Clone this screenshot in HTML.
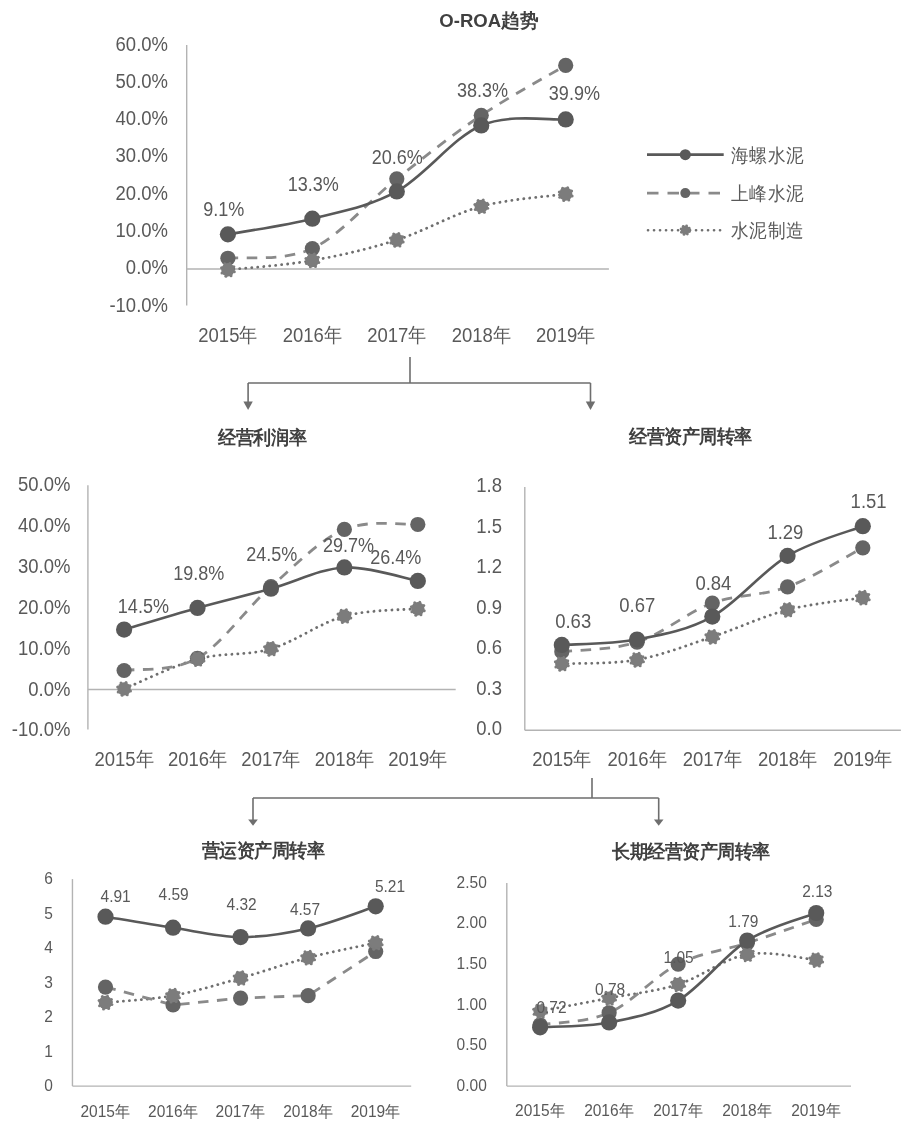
<!DOCTYPE html>
<html><head><meta charset="utf-8"><style>
html,body{margin:0;padding:0;background:#fff;}
svg{display:block;font-family:'Liberation Sans', sans-serif;filter:grayscale(1);}
</style></head><body>
<svg width="914" height="1131" viewBox="0 0 914 1131">
<rect width="914" height="1131" fill="#fff"/>
<line x1="186.7" y1="45" x2="186.7" y2="305.6" stroke="#b3b3b3" stroke-width="1.4"/>
<line x1="186.7" y1="269.0" x2="608.9" y2="269.0" stroke="#b3b3b3" stroke-width="1.4"/>
<text transform="translate(168.00,304.30) scale(1.0,1.1)" font-size="18.5" text-anchor="end" font-weight="normal" fill="#595959" dominant-baseline="central">-10.0%</text>
<text transform="translate(168.00,267.00) scale(1.0,1.1)" font-size="18.5" text-anchor="end" font-weight="normal" fill="#595959" dominant-baseline="central">0.0%</text>
<text transform="translate(168.00,229.70) scale(1.0,1.1)" font-size="18.5" text-anchor="end" font-weight="normal" fill="#595959" dominant-baseline="central">10.0%</text>
<text transform="translate(168.00,192.40) scale(1.0,1.1)" font-size="18.5" text-anchor="end" font-weight="normal" fill="#595959" dominant-baseline="central">20.0%</text>
<text transform="translate(168.00,155.10) scale(1.0,1.1)" font-size="18.5" text-anchor="end" font-weight="normal" fill="#595959" dominant-baseline="central">30.0%</text>
<text transform="translate(168.00,117.80) scale(1.0,1.1)" font-size="18.5" text-anchor="end" font-weight="normal" fill="#595959" dominant-baseline="central">40.0%</text>
<text transform="translate(168.00,80.50) scale(1.0,1.1)" font-size="18.5" text-anchor="end" font-weight="normal" fill="#595959" dominant-baseline="central">50.0%</text>
<text transform="translate(168.00,43.20) scale(1.0,1.1)" font-size="18.5" text-anchor="end" font-weight="normal" fill="#595959" dominant-baseline="central">60.0%</text>
<text transform="translate(227.90,334.20) scale(1.0,1.1)" font-size="18.5" text-anchor="middle" font-weight="normal" fill="#595959" dominant-baseline="central">2015年</text>
<text transform="translate(312.35,334.20) scale(1.0,1.1)" font-size="18.5" text-anchor="middle" font-weight="normal" fill="#595959" dominant-baseline="central">2016年</text>
<text transform="translate(396.80,334.20) scale(1.0,1.1)" font-size="18.5" text-anchor="middle" font-weight="normal" fill="#595959" dominant-baseline="central">2017年</text>
<text transform="translate(481.25,334.20) scale(1.0,1.1)" font-size="18.5" text-anchor="middle" font-weight="normal" fill="#595959" dominant-baseline="central">2018年</text>
<text transform="translate(565.70,334.20) scale(1.0,1.1)" font-size="18.5" text-anchor="middle" font-weight="normal" fill="#595959" dominant-baseline="central">2019年</text>
<path d="M227.90,269.79 C241.98,268.24 284.20,265.44 312.35,260.47 C340.50,255.49 368.65,248.97 396.80,239.95 C424.95,230.94 453.10,214.03 481.25,206.38 C509.40,198.74 551.62,196.12 565.70,194.07" fill="none" stroke="#6f6f6f" stroke-width="2.8" stroke-dasharray="0.1 5.9" stroke-linecap="round"/>
<path d="M227.90,258.23 C241.98,256.61 284.20,261.77 312.35,248.53 C340.50,235.29 368.65,200.97 396.80,178.78 C424.95,156.59 453.10,134.27 481.25,115.37 C509.40,96.47 551.62,73.72 565.70,65.39" fill="none" stroke="#8a8a8a" stroke-width="2.8" stroke-dasharray="10.5 8.5"/>
<circle cx="227.90" cy="258.23" r="7.6" fill="#646464"/>
<circle cx="312.35" cy="248.53" r="7.6" fill="#646464"/>
<circle cx="396.80" cy="178.78" r="7.6" fill="#646464"/>
<circle cx="481.25" cy="115.37" r="7.6" fill="#646464"/>
<circle cx="565.70" cy="65.39" r="7.6" fill="#646464"/>
<circle cx="227.90" cy="269.79" r="6.7" fill="#7c7c7c"/><circle cx="234.30" cy="271.77" r="1.5" fill="#7c7c7c"/><circle cx="231.03" cy="275.72" r="1.5" fill="#7c7c7c"/><circle cx="225.92" cy="276.19" r="1.5" fill="#7c7c7c"/><circle cx="221.97" cy="272.92" r="1.5" fill="#7c7c7c"/><circle cx="221.50" cy="267.81" r="1.5" fill="#7c7c7c"/><circle cx="224.77" cy="263.87" r="1.5" fill="#7c7c7c"/><circle cx="229.88" cy="263.39" r="1.5" fill="#7c7c7c"/><circle cx="233.83" cy="266.67" r="1.5" fill="#7c7c7c"/>
<circle cx="312.35" cy="260.47" r="6.7" fill="#7c7c7c"/><circle cx="318.75" cy="262.45" r="1.5" fill="#7c7c7c"/><circle cx="315.48" cy="266.39" r="1.5" fill="#7c7c7c"/><circle cx="310.37" cy="266.87" r="1.5" fill="#7c7c7c"/><circle cx="306.42" cy="263.59" r="1.5" fill="#7c7c7c"/><circle cx="305.95" cy="258.49" r="1.5" fill="#7c7c7c"/><circle cx="309.22" cy="254.54" r="1.5" fill="#7c7c7c"/><circle cx="314.33" cy="254.07" r="1.5" fill="#7c7c7c"/><circle cx="318.28" cy="257.34" r="1.5" fill="#7c7c7c"/>
<circle cx="396.80" cy="239.95" r="6.7" fill="#7c7c7c"/><circle cx="403.20" cy="241.93" r="1.5" fill="#7c7c7c"/><circle cx="399.93" cy="245.88" r="1.5" fill="#7c7c7c"/><circle cx="394.82" cy="246.35" r="1.5" fill="#7c7c7c"/><circle cx="390.87" cy="243.08" r="1.5" fill="#7c7c7c"/><circle cx="390.40" cy="237.97" r="1.5" fill="#7c7c7c"/><circle cx="393.67" cy="234.03" r="1.5" fill="#7c7c7c"/><circle cx="398.78" cy="233.55" r="1.5" fill="#7c7c7c"/><circle cx="402.73" cy="236.83" r="1.5" fill="#7c7c7c"/>
<circle cx="481.25" cy="206.38" r="6.7" fill="#7c7c7c"/><circle cx="487.65" cy="208.36" r="1.5" fill="#7c7c7c"/><circle cx="484.38" cy="212.31" r="1.5" fill="#7c7c7c"/><circle cx="479.27" cy="212.78" r="1.5" fill="#7c7c7c"/><circle cx="475.32" cy="209.51" r="1.5" fill="#7c7c7c"/><circle cx="474.85" cy="204.40" r="1.5" fill="#7c7c7c"/><circle cx="478.12" cy="200.46" r="1.5" fill="#7c7c7c"/><circle cx="483.23" cy="199.98" r="1.5" fill="#7c7c7c"/><circle cx="487.18" cy="203.26" r="1.5" fill="#7c7c7c"/>
<circle cx="565.70" cy="194.07" r="6.7" fill="#7c7c7c"/><circle cx="572.10" cy="196.05" r="1.5" fill="#7c7c7c"/><circle cx="568.83" cy="200.00" r="1.5" fill="#7c7c7c"/><circle cx="563.72" cy="200.47" r="1.5" fill="#7c7c7c"/><circle cx="559.77" cy="197.20" r="1.5" fill="#7c7c7c"/><circle cx="559.30" cy="192.09" r="1.5" fill="#7c7c7c"/><circle cx="562.57" cy="188.15" r="1.5" fill="#7c7c7c"/><circle cx="567.68" cy="187.67" r="1.5" fill="#7c7c7c"/><circle cx="571.63" cy="190.95" r="1.5" fill="#7c7c7c"/>
<path d="M227.90,234.36 C241.98,231.75 284.20,225.84 312.35,218.69 C340.50,211.54 368.65,207.00 396.80,191.46 C424.95,175.92 453.10,137.44 481.25,125.44 C509.40,113.44 551.62,120.47 565.70,119.47" fill="none" stroke="#595959" stroke-width="2.6"/>
<circle cx="227.90" cy="234.36" r="8.1" fill="#595959"/>
<circle cx="312.35" cy="218.69" r="8.1" fill="#595959"/>
<circle cx="396.80" cy="191.46" r="8.1" fill="#595959"/>
<circle cx="481.25" cy="125.44" r="8.1" fill="#595959"/>
<circle cx="565.70" cy="119.47" r="8.1" fill="#595959"/>
<text transform="translate(223.80,209.20) scale(0.975,1.1)" font-size="18.5" text-anchor="middle" font-weight="normal" fill="#595959" dominant-baseline="central">9.1%</text>
<text transform="translate(313.30,184.20) scale(0.975,1.1)" font-size="18.5" text-anchor="middle" font-weight="normal" fill="#595959" dominant-baseline="central">13.3%</text>
<text transform="translate(397.30,156.80) scale(0.975,1.1)" font-size="18.5" text-anchor="middle" font-weight="normal" fill="#595959" dominant-baseline="central">20.6%</text>
<text transform="translate(482.50,90.00) scale(0.975,1.1)" font-size="18.5" text-anchor="middle" font-weight="normal" fill="#595959" dominant-baseline="central">38.3%</text>
<text transform="translate(574.40,93.10) scale(0.975,1.1)" font-size="18.5" text-anchor="middle" font-weight="normal" fill="#595959" dominant-baseline="central">39.9%</text>
<text transform="translate(489.00,20.50) scale(1.03,1.05)" font-size="18" text-anchor="middle" font-weight="bold" fill="#404040" dominant-baseline="central">O-ROA趋势</text>
<line x1="647" y1="154.7" x2="723.7" y2="154.7" stroke="#595959" stroke-width="2.8"/>
<circle cx="685.3" cy="154.7" r="5.5" fill="#595959"/>
<text transform="translate(731.00,155.00) scale(0.975,1.05)" font-size="18.5" text-anchor="start" font-weight="normal" fill="#595959" dominant-baseline="central">海螺水泥</text>
<line x1="647" y1="193.1" x2="723.7" y2="193.1" stroke="#8a8a8a" stroke-width="2.8" stroke-dasharray="11.5 9"/>
<circle cx="685.3" cy="193.1" r="5" fill="#646464"/>
<text transform="translate(731.00,193.40) scale(0.975,1.05)" font-size="18.5" text-anchor="start" font-weight="normal" fill="#595959" dominant-baseline="central">上峰水泥</text>
<line x1="648" y1="230.2" x2="723.7" y2="230.2" stroke="#6f6f6f" stroke-width="2.6" stroke-dasharray="0.1 5.9" stroke-linecap="round"/>
<circle cx="685.30" cy="230.20" r="4.4" fill="#7c7c7c"/><circle cx="689.50" cy="231.50" r="1.4" fill="#7c7c7c"/><circle cx="687.35" cy="234.09" r="1.4" fill="#7c7c7c"/><circle cx="684.00" cy="234.40" r="1.4" fill="#7c7c7c"/><circle cx="681.41" cy="232.25" r="1.4" fill="#7c7c7c"/><circle cx="681.10" cy="228.90" r="1.4" fill="#7c7c7c"/><circle cx="683.25" cy="226.31" r="1.4" fill="#7c7c7c"/><circle cx="686.60" cy="226.00" r="1.4" fill="#7c7c7c"/><circle cx="689.19" cy="228.15" r="1.4" fill="#7c7c7c"/>
<text transform="translate(731.00,230.50) scale(0.975,1.05)" font-size="18.5" text-anchor="start" font-weight="normal" fill="#595959" dominant-baseline="central">水泥制造</text>
<path d="M410,357 V383 M248.1,383 H590.5 M248.1,383 V402 M590.5,383 V402" fill="none" stroke="#6e6e6e" stroke-width="1.6"/>
<path d="M243.4,401.4 L252.79999999999998,401.4 L248.1,410 Z" fill="#6e6e6e"/>
<path d="M585.8,401.4 L595.2,401.4 L590.5,410 Z" fill="#6e6e6e"/>
<path d="M592,778 V798 M253,798 H658.7 M253,798 V820 M658.7,798 V820" fill="none" stroke="#6e6e6e" stroke-width="1.6"/>
<path d="M248.2,819.6 L257.8,819.6 L253,825.8 Z" fill="#6e6e6e"/>
<path d="M653.9000000000001,819.6 L663.5,819.6 L658.7,825.8 Z" fill="#6e6e6e"/>
<line x1="87.9" y1="485.3" x2="87.9" y2="729.6" stroke="#b3b3b3" stroke-width="1.4"/>
<line x1="87.9" y1="689.5" x2="455.7" y2="689.5" stroke="#b3b3b3" stroke-width="1.4"/>
<text transform="translate(70.40,729.10) scale(1.0,1.1)" font-size="18.5" text-anchor="end" font-weight="normal" fill="#595959" dominant-baseline="central">-10.0%</text>
<text transform="translate(70.40,688.20) scale(1.0,1.1)" font-size="18.5" text-anchor="end" font-weight="normal" fill="#595959" dominant-baseline="central">0.0%</text>
<text transform="translate(70.40,647.30) scale(1.0,1.1)" font-size="18.5" text-anchor="end" font-weight="normal" fill="#595959" dominant-baseline="central">10.0%</text>
<text transform="translate(70.40,606.40) scale(1.0,1.1)" font-size="18.5" text-anchor="end" font-weight="normal" fill="#595959" dominant-baseline="central">20.0%</text>
<text transform="translate(70.40,565.50) scale(1.0,1.1)" font-size="18.5" text-anchor="end" font-weight="normal" fill="#595959" dominant-baseline="central">30.0%</text>
<text transform="translate(70.40,524.60) scale(1.0,1.1)" font-size="18.5" text-anchor="end" font-weight="normal" fill="#595959" dominant-baseline="central">40.0%</text>
<text transform="translate(70.40,483.70) scale(1.0,1.1)" font-size="18.5" text-anchor="end" font-weight="normal" fill="#595959" dominant-baseline="central">50.0%</text>
<text transform="translate(124.10,758.40) scale(1.0,1.1)" font-size="18.5" text-anchor="middle" font-weight="normal" fill="#595959" dominant-baseline="central">2015年</text>
<text transform="translate(197.53,758.40) scale(1.0,1.1)" font-size="18.5" text-anchor="middle" font-weight="normal" fill="#595959" dominant-baseline="central">2016年</text>
<text transform="translate(270.96,758.40) scale(1.0,1.1)" font-size="18.5" text-anchor="middle" font-weight="normal" fill="#595959" dominant-baseline="central">2017年</text>
<text transform="translate(344.39,758.40) scale(1.0,1.1)" font-size="18.5" text-anchor="middle" font-weight="normal" fill="#595959" dominant-baseline="central">2018年</text>
<text transform="translate(417.82,758.40) scale(1.0,1.1)" font-size="18.5" text-anchor="middle" font-weight="normal" fill="#595959" dominant-baseline="central">2019年</text>
<path d="M124.10,688.90 C136.34,683.92 173.05,665.72 197.53,659.04 C222.01,652.36 246.48,655.98 270.96,648.82 C295.44,641.66 319.91,622.78 344.39,616.10 C368.87,609.42 405.58,609.96 417.82,608.74" fill="none" stroke="#6f6f6f" stroke-width="2.8" stroke-dasharray="0.1 5.9" stroke-linecap="round"/>
<path d="M124.10,670.50 C136.34,668.45 173.05,672.20 197.53,658.23 C222.01,644.25 246.48,608.12 270.96,586.65 C295.44,565.18 319.91,539.75 344.39,529.39 C368.87,519.03 405.58,525.30 417.82,524.48" fill="none" stroke="#8a8a8a" stroke-width="2.8" stroke-dasharray="10.5 8.5"/>
<circle cx="124.10" cy="670.50" r="7.6" fill="#646464"/>
<circle cx="197.53" cy="658.23" r="7.6" fill="#646464"/>
<circle cx="270.96" cy="586.65" r="7.6" fill="#646464"/>
<circle cx="344.39" cy="529.39" r="7.6" fill="#646464"/>
<circle cx="417.82" cy="524.48" r="7.6" fill="#646464"/>
<circle cx="124.10" cy="688.90" r="6.7" fill="#7c7c7c"/><circle cx="130.50" cy="690.88" r="1.5" fill="#7c7c7c"/><circle cx="127.23" cy="694.83" r="1.5" fill="#7c7c7c"/><circle cx="122.12" cy="695.30" r="1.5" fill="#7c7c7c"/><circle cx="118.17" cy="692.03" r="1.5" fill="#7c7c7c"/><circle cx="117.70" cy="686.92" r="1.5" fill="#7c7c7c"/><circle cx="120.97" cy="682.97" r="1.5" fill="#7c7c7c"/><circle cx="126.08" cy="682.50" r="1.5" fill="#7c7c7c"/><circle cx="130.03" cy="685.77" r="1.5" fill="#7c7c7c"/>
<circle cx="197.53" cy="659.04" r="6.7" fill="#7c7c7c"/><circle cx="203.93" cy="661.02" r="1.5" fill="#7c7c7c"/><circle cx="200.66" cy="664.97" r="1.5" fill="#7c7c7c"/><circle cx="195.55" cy="665.44" r="1.5" fill="#7c7c7c"/><circle cx="191.60" cy="662.17" r="1.5" fill="#7c7c7c"/><circle cx="191.13" cy="657.06" r="1.5" fill="#7c7c7c"/><circle cx="194.40" cy="653.12" r="1.5" fill="#7c7c7c"/><circle cx="199.51" cy="652.64" r="1.5" fill="#7c7c7c"/><circle cx="203.46" cy="655.92" r="1.5" fill="#7c7c7c"/>
<circle cx="270.96" cy="648.82" r="6.7" fill="#7c7c7c"/><circle cx="277.36" cy="650.80" r="1.5" fill="#7c7c7c"/><circle cx="274.09" cy="654.74" r="1.5" fill="#7c7c7c"/><circle cx="268.98" cy="655.22" r="1.5" fill="#7c7c7c"/><circle cx="265.03" cy="651.94" r="1.5" fill="#7c7c7c"/><circle cx="264.56" cy="646.84" r="1.5" fill="#7c7c7c"/><circle cx="267.83" cy="642.89" r="1.5" fill="#7c7c7c"/><circle cx="272.94" cy="642.42" r="1.5" fill="#7c7c7c"/><circle cx="276.89" cy="645.69" r="1.5" fill="#7c7c7c"/>
<circle cx="344.39" cy="616.10" r="6.7" fill="#7c7c7c"/><circle cx="350.79" cy="618.08" r="1.5" fill="#7c7c7c"/><circle cx="347.52" cy="622.02" r="1.5" fill="#7c7c7c"/><circle cx="342.41" cy="622.50" r="1.5" fill="#7c7c7c"/><circle cx="338.46" cy="619.22" r="1.5" fill="#7c7c7c"/><circle cx="337.99" cy="614.12" r="1.5" fill="#7c7c7c"/><circle cx="341.26" cy="610.17" r="1.5" fill="#7c7c7c"/><circle cx="346.37" cy="609.70" r="1.5" fill="#7c7c7c"/><circle cx="350.32" cy="612.97" r="1.5" fill="#7c7c7c"/>
<circle cx="417.82" cy="608.74" r="6.7" fill="#7c7c7c"/><circle cx="424.22" cy="610.72" r="1.5" fill="#7c7c7c"/><circle cx="420.95" cy="614.66" r="1.5" fill="#7c7c7c"/><circle cx="415.84" cy="615.14" r="1.5" fill="#7c7c7c"/><circle cx="411.89" cy="611.86" r="1.5" fill="#7c7c7c"/><circle cx="411.42" cy="606.76" r="1.5" fill="#7c7c7c"/><circle cx="414.69" cy="602.81" r="1.5" fill="#7c7c7c"/><circle cx="419.80" cy="602.34" r="1.5" fill="#7c7c7c"/><circle cx="423.75" cy="605.61" r="1.5" fill="#7c7c7c"/>
<path d="M124.10,629.60 C136.34,625.98 173.05,614.73 197.53,607.92 C222.01,601.10 246.48,595.44 270.96,588.69 C295.44,581.95 319.91,568.72 344.39,567.43 C368.87,566.13 405.58,578.67 417.82,580.92" fill="none" stroke="#595959" stroke-width="2.6"/>
<circle cx="124.10" cy="629.60" r="8.1" fill="#595959"/>
<circle cx="197.53" cy="607.92" r="8.1" fill="#595959"/>
<circle cx="270.96" cy="588.69" r="8.1" fill="#595959"/>
<circle cx="344.39" cy="567.43" r="8.1" fill="#595959"/>
<circle cx="417.82" cy="580.92" r="8.1" fill="#595959"/>
<text transform="translate(143.40,606.20) scale(0.975,1.1)" font-size="18.5" text-anchor="middle" font-weight="normal" fill="#595959" dominant-baseline="central">14.5%</text>
<text transform="translate(198.80,573.50) scale(0.975,1.1)" font-size="18.5" text-anchor="middle" font-weight="normal" fill="#595959" dominant-baseline="central">19.8%</text>
<text transform="translate(271.80,554.30) scale(0.975,1.1)" font-size="18.5" text-anchor="middle" font-weight="normal" fill="#595959" dominant-baseline="central">24.5%</text>
<text transform="translate(348.50,545.00) scale(0.975,1.1)" font-size="18.5" text-anchor="middle" font-weight="normal" fill="#595959" dominant-baseline="central">29.7%</text>
<text transform="translate(395.80,557.20) scale(0.975,1.1)" font-size="18.5" text-anchor="middle" font-weight="normal" fill="#595959" dominant-baseline="central">26.4%</text>
<text transform="translate(262.25,436.90) scale(1.0,1.05)" font-size="18" text-anchor="middle" font-weight="bold" fill="#404040" dominant-baseline="central">经营利润率</text>
<line x1="524.8" y1="487.1" x2="524.8" y2="730.2" stroke="#b3b3b3" stroke-width="1.4"/>
<line x1="524.8" y1="730.2" x2="900.9" y2="730.2" stroke="#b3b3b3" stroke-width="1.4"/>
<text transform="translate(502.00,727.80) scale(1.0,1.1)" font-size="18.5" text-anchor="end" font-weight="normal" fill="#595959" dominant-baseline="central">0.0</text>
<text transform="translate(502.00,687.33) scale(1.0,1.1)" font-size="18.5" text-anchor="end" font-weight="normal" fill="#595959" dominant-baseline="central">0.3</text>
<text transform="translate(502.00,646.87) scale(1.0,1.1)" font-size="18.5" text-anchor="end" font-weight="normal" fill="#595959" dominant-baseline="central">0.6</text>
<text transform="translate(502.00,606.40) scale(1.0,1.1)" font-size="18.5" text-anchor="end" font-weight="normal" fill="#595959" dominant-baseline="central">0.9</text>
<text transform="translate(502.00,565.93) scale(1.0,1.1)" font-size="18.5" text-anchor="end" font-weight="normal" fill="#595959" dominant-baseline="central">1.2</text>
<text transform="translate(502.00,525.47) scale(1.0,1.1)" font-size="18.5" text-anchor="end" font-weight="normal" fill="#595959" dominant-baseline="central">1.5</text>
<text transform="translate(502.00,485.00) scale(1.0,1.1)" font-size="18.5" text-anchor="end" font-weight="normal" fill="#595959" dominant-baseline="central">1.8</text>
<text transform="translate(561.80,758.50) scale(1.0,1.1)" font-size="18.5" text-anchor="middle" font-weight="normal" fill="#595959" dominant-baseline="central">2015年</text>
<text transform="translate(637.05,758.50) scale(1.0,1.1)" font-size="18.5" text-anchor="middle" font-weight="normal" fill="#595959" dominant-baseline="central">2016年</text>
<text transform="translate(712.30,758.50) scale(1.0,1.1)" font-size="18.5" text-anchor="middle" font-weight="normal" fill="#595959" dominant-baseline="central">2017年</text>
<text transform="translate(787.55,758.50) scale(1.0,1.1)" font-size="18.5" text-anchor="middle" font-weight="normal" fill="#595959" dominant-baseline="central">2018年</text>
<text transform="translate(862.80,758.50) scale(1.0,1.1)" font-size="18.5" text-anchor="middle" font-weight="normal" fill="#595959" dominant-baseline="central">2019年</text>
<path d="M561.80,663.80 C574.34,663.13 611.97,664.25 637.05,659.76 C662.13,655.26 687.22,645.14 712.30,636.83 C737.38,628.51 762.47,616.37 787.55,609.85 C812.63,603.33 850.26,599.73 862.80,597.71" fill="none" stroke="#6f6f6f" stroke-width="2.8" stroke-dasharray="0.1 5.9" stroke-linecap="round"/>
<path d="M561.80,651.66 C574.34,650.09 611.97,650.32 637.05,642.22 C662.13,634.13 687.22,612.32 712.30,603.10 C737.38,593.89 762.47,596.14 787.55,586.92 C812.63,577.70 850.26,554.32 862.80,547.80" fill="none" stroke="#8a8a8a" stroke-width="2.8" stroke-dasharray="10.5 8.5"/>
<circle cx="561.80" cy="651.66" r="7.6" fill="#646464"/>
<circle cx="637.05" cy="642.22" r="7.6" fill="#646464"/>
<circle cx="712.30" cy="603.10" r="7.6" fill="#646464"/>
<circle cx="787.55" cy="586.92" r="7.6" fill="#646464"/>
<circle cx="862.80" cy="547.80" r="7.6" fill="#646464"/>
<circle cx="561.80" cy="663.80" r="6.7" fill="#7c7c7c"/><circle cx="568.20" cy="665.78" r="1.5" fill="#7c7c7c"/><circle cx="564.93" cy="669.73" r="1.5" fill="#7c7c7c"/><circle cx="559.82" cy="670.21" r="1.5" fill="#7c7c7c"/><circle cx="555.87" cy="666.93" r="1.5" fill="#7c7c7c"/><circle cx="555.40" cy="661.82" r="1.5" fill="#7c7c7c"/><circle cx="558.67" cy="657.88" r="1.5" fill="#7c7c7c"/><circle cx="563.78" cy="657.40" r="1.5" fill="#7c7c7c"/><circle cx="567.73" cy="660.68" r="1.5" fill="#7c7c7c"/>
<circle cx="637.05" cy="659.76" r="6.7" fill="#7c7c7c"/><circle cx="643.45" cy="661.74" r="1.5" fill="#7c7c7c"/><circle cx="640.18" cy="665.68" r="1.5" fill="#7c7c7c"/><circle cx="635.07" cy="666.16" r="1.5" fill="#7c7c7c"/><circle cx="631.12" cy="662.88" r="1.5" fill="#7c7c7c"/><circle cx="630.65" cy="657.78" r="1.5" fill="#7c7c7c"/><circle cx="633.92" cy="653.83" r="1.5" fill="#7c7c7c"/><circle cx="639.03" cy="653.36" r="1.5" fill="#7c7c7c"/><circle cx="642.98" cy="656.63" r="1.5" fill="#7c7c7c"/>
<circle cx="712.30" cy="636.83" r="6.7" fill="#7c7c7c"/><circle cx="718.70" cy="638.81" r="1.5" fill="#7c7c7c"/><circle cx="715.43" cy="642.75" r="1.5" fill="#7c7c7c"/><circle cx="710.32" cy="643.23" r="1.5" fill="#7c7c7c"/><circle cx="706.37" cy="639.95" r="1.5" fill="#7c7c7c"/><circle cx="705.90" cy="634.85" r="1.5" fill="#7c7c7c"/><circle cx="709.17" cy="630.90" r="1.5" fill="#7c7c7c"/><circle cx="714.28" cy="630.43" r="1.5" fill="#7c7c7c"/><circle cx="718.23" cy="633.70" r="1.5" fill="#7c7c7c"/>
<circle cx="787.55" cy="609.85" r="6.7" fill="#7c7c7c"/><circle cx="793.95" cy="611.83" r="1.5" fill="#7c7c7c"/><circle cx="790.68" cy="615.77" r="1.5" fill="#7c7c7c"/><circle cx="785.57" cy="616.25" r="1.5" fill="#7c7c7c"/><circle cx="781.62" cy="612.97" r="1.5" fill="#7c7c7c"/><circle cx="781.15" cy="607.87" r="1.5" fill="#7c7c7c"/><circle cx="784.42" cy="603.92" r="1.5" fill="#7c7c7c"/><circle cx="789.53" cy="603.45" r="1.5" fill="#7c7c7c"/><circle cx="793.48" cy="606.72" r="1.5" fill="#7c7c7c"/>
<circle cx="862.80" cy="597.71" r="6.7" fill="#7c7c7c"/><circle cx="869.20" cy="599.69" r="1.5" fill="#7c7c7c"/><circle cx="865.93" cy="603.63" r="1.5" fill="#7c7c7c"/><circle cx="860.82" cy="604.11" r="1.5" fill="#7c7c7c"/><circle cx="856.87" cy="600.83" r="1.5" fill="#7c7c7c"/><circle cx="856.40" cy="595.73" r="1.5" fill="#7c7c7c"/><circle cx="859.67" cy="591.78" r="1.5" fill="#7c7c7c"/><circle cx="864.78" cy="591.31" r="1.5" fill="#7c7c7c"/><circle cx="868.73" cy="594.58" r="1.5" fill="#7c7c7c"/>
<path d="M561.80,644.92 C574.34,644.02 611.97,644.25 637.05,639.52 C662.13,634.80 687.22,630.53 712.30,616.59 C737.38,602.65 762.47,570.96 787.55,555.89 C812.63,540.83 850.26,531.16 862.80,526.22" fill="none" stroke="#595959" stroke-width="2.6"/>
<circle cx="561.80" cy="644.92" r="8.1" fill="#595959"/>
<circle cx="637.05" cy="639.52" r="8.1" fill="#595959"/>
<circle cx="712.30" cy="616.59" r="8.1" fill="#595959"/>
<circle cx="787.55" cy="555.89" r="8.1" fill="#595959"/>
<circle cx="862.80" cy="526.22" r="8.1" fill="#595959"/>
<text transform="translate(573.20,621.00) scale(1.0,1.1)" font-size="18.5" text-anchor="middle" font-weight="normal" fill="#595959" dominant-baseline="central">0.63</text>
<text transform="translate(637.30,604.70) scale(1.0,1.1)" font-size="18.5" text-anchor="middle" font-weight="normal" fill="#595959" dominant-baseline="central">0.67</text>
<text transform="translate(713.40,582.40) scale(1.0,1.1)" font-size="18.5" text-anchor="middle" font-weight="normal" fill="#595959" dominant-baseline="central">0.84</text>
<text transform="translate(785.40,531.70) scale(1.0,1.1)" font-size="18.5" text-anchor="middle" font-weight="normal" fill="#595959" dominant-baseline="central">1.29</text>
<text transform="translate(868.60,501.00) scale(1.0,1.1)" font-size="18.5" text-anchor="middle" font-weight="normal" fill="#595959" dominant-baseline="central">1.51</text>
<text transform="translate(690.45,436.60) scale(1.0,1.05)" font-size="18" text-anchor="middle" font-weight="bold" fill="#404040" dominant-baseline="central">经营资产周转率</text>
<line x1="72.45" y1="879.1" x2="72.45" y2="1086.1" stroke="#b3b3b3" stroke-width="1.4"/>
<line x1="72.45" y1="1086.1" x2="411.2" y2="1086.1" stroke="#b3b3b3" stroke-width="1.4"/>
<text transform="translate(53.00,1085.50) scale(1.0,1.06)" font-size="15.5" text-anchor="end" font-weight="normal" fill="#595959" dominant-baseline="central">0</text>
<text transform="translate(53.00,1051.02) scale(1.0,1.06)" font-size="15.5" text-anchor="end" font-weight="normal" fill="#595959" dominant-baseline="central">1</text>
<text transform="translate(53.00,1016.53) scale(1.0,1.06)" font-size="15.5" text-anchor="end" font-weight="normal" fill="#595959" dominant-baseline="central">2</text>
<text transform="translate(53.00,982.05) scale(1.0,1.06)" font-size="15.5" text-anchor="end" font-weight="normal" fill="#595959" dominant-baseline="central">3</text>
<text transform="translate(53.00,947.57) scale(1.0,1.06)" font-size="15.5" text-anchor="end" font-weight="normal" fill="#595959" dominant-baseline="central">4</text>
<text transform="translate(53.00,913.08) scale(1.0,1.06)" font-size="15.5" text-anchor="end" font-weight="normal" fill="#595959" dominant-baseline="central">5</text>
<text transform="translate(53.00,878.60) scale(1.0,1.06)" font-size="15.5" text-anchor="end" font-weight="normal" fill="#595959" dominant-baseline="central">6</text>
<text transform="translate(105.50,1111.00) scale(1.0,1.06)" font-size="15.5" text-anchor="middle" font-weight="normal" fill="#595959" dominant-baseline="central">2015年</text>
<text transform="translate(173.05,1111.00) scale(1.0,1.06)" font-size="15.5" text-anchor="middle" font-weight="normal" fill="#595959" dominant-baseline="central">2016年</text>
<text transform="translate(240.60,1111.00) scale(1.0,1.06)" font-size="15.5" text-anchor="middle" font-weight="normal" fill="#595959" dominant-baseline="central">2017年</text>
<text transform="translate(308.15,1111.00) scale(1.0,1.06)" font-size="15.5" text-anchor="middle" font-weight="normal" fill="#595959" dominant-baseline="central">2018年</text>
<text transform="translate(375.70,1111.00) scale(1.0,1.06)" font-size="15.5" text-anchor="middle" font-weight="normal" fill="#595959" dominant-baseline="central">2019年</text>
<path d="M105.50,1002.55 C116.76,1001.40 150.53,999.73 173.05,995.65 C195.57,991.57 218.08,984.39 240.60,978.07 C263.12,971.75 285.63,963.58 308.15,957.72 C330.67,951.86 364.44,945.37 375.70,942.89" fill="none" stroke="#6f6f6f" stroke-width="2.8" stroke-dasharray="0.1 5.9" stroke-linecap="round"/>
<path d="M105.50,987.03 L173.05,1004.96 L240.60,998.07 L308.15,995.65 L375.70,951.51" fill="none" stroke="#8a8a8a" stroke-width="2.8" stroke-dasharray="10.5 8.5"/>
<circle cx="105.50" cy="987.03" r="7.6" fill="#646464"/>
<circle cx="173.05" cy="1004.96" r="7.6" fill="#646464"/>
<circle cx="240.60" cy="998.07" r="7.6" fill="#646464"/>
<circle cx="308.15" cy="995.65" r="7.6" fill="#646464"/>
<circle cx="375.70" cy="951.51" r="7.6" fill="#646464"/>
<circle cx="105.50" cy="1002.55" r="6.7" fill="#7c7c7c"/><circle cx="111.90" cy="1004.53" r="1.5" fill="#7c7c7c"/><circle cx="108.63" cy="1008.48" r="1.5" fill="#7c7c7c"/><circle cx="103.52" cy="1008.95" r="1.5" fill="#7c7c7c"/><circle cx="99.57" cy="1005.68" r="1.5" fill="#7c7c7c"/><circle cx="99.10" cy="1000.57" r="1.5" fill="#7c7c7c"/><circle cx="102.37" cy="996.62" r="1.5" fill="#7c7c7c"/><circle cx="107.48" cy="996.15" r="1.5" fill="#7c7c7c"/><circle cx="111.43" cy="999.42" r="1.5" fill="#7c7c7c"/>
<circle cx="173.05" cy="995.65" r="6.7" fill="#7c7c7c"/><circle cx="179.45" cy="997.63" r="1.5" fill="#7c7c7c"/><circle cx="176.18" cy="1001.58" r="1.5" fill="#7c7c7c"/><circle cx="171.07" cy="1002.05" r="1.5" fill="#7c7c7c"/><circle cx="167.12" cy="998.78" r="1.5" fill="#7c7c7c"/><circle cx="166.65" cy="993.67" r="1.5" fill="#7c7c7c"/><circle cx="169.92" cy="989.73" r="1.5" fill="#7c7c7c"/><circle cx="175.03" cy="989.25" r="1.5" fill="#7c7c7c"/><circle cx="178.98" cy="992.53" r="1.5" fill="#7c7c7c"/>
<circle cx="240.60" cy="978.07" r="6.7" fill="#7c7c7c"/><circle cx="247.00" cy="980.05" r="1.5" fill="#7c7c7c"/><circle cx="243.73" cy="983.99" r="1.5" fill="#7c7c7c"/><circle cx="238.62" cy="984.47" r="1.5" fill="#7c7c7c"/><circle cx="234.67" cy="981.19" r="1.5" fill="#7c7c7c"/><circle cx="234.20" cy="976.09" r="1.5" fill="#7c7c7c"/><circle cx="237.47" cy="972.14" r="1.5" fill="#7c7c7c"/><circle cx="242.58" cy="971.67" r="1.5" fill="#7c7c7c"/><circle cx="246.53" cy="974.94" r="1.5" fill="#7c7c7c"/>
<circle cx="308.15" cy="957.72" r="6.7" fill="#7c7c7c"/><circle cx="314.55" cy="959.70" r="1.5" fill="#7c7c7c"/><circle cx="311.28" cy="963.65" r="1.5" fill="#7c7c7c"/><circle cx="306.17" cy="964.12" r="1.5" fill="#7c7c7c"/><circle cx="302.22" cy="960.85" r="1.5" fill="#7c7c7c"/><circle cx="301.75" cy="955.74" r="1.5" fill="#7c7c7c"/><circle cx="305.02" cy="951.80" r="1.5" fill="#7c7c7c"/><circle cx="310.13" cy="951.32" r="1.5" fill="#7c7c7c"/><circle cx="314.08" cy="954.60" r="1.5" fill="#7c7c7c"/>
<circle cx="375.70" cy="942.89" r="6.7" fill="#7c7c7c"/><circle cx="382.10" cy="944.87" r="1.5" fill="#7c7c7c"/><circle cx="378.83" cy="948.82" r="1.5" fill="#7c7c7c"/><circle cx="373.72" cy="949.29" r="1.5" fill="#7c7c7c"/><circle cx="369.77" cy="946.02" r="1.5" fill="#7c7c7c"/><circle cx="369.30" cy="940.91" r="1.5" fill="#7c7c7c"/><circle cx="372.57" cy="936.97" r="1.5" fill="#7c7c7c"/><circle cx="377.68" cy="936.49" r="1.5" fill="#7c7c7c"/><circle cx="381.63" cy="939.77" r="1.5" fill="#7c7c7c"/>
<path d="M105.50,916.69 C116.76,918.53 150.53,924.33 173.05,927.72 C195.57,931.11 218.08,936.92 240.60,937.03 C263.12,937.15 285.63,933.53 308.15,928.41 C330.67,923.30 364.44,910.02 375.70,906.34" fill="none" stroke="#595959" stroke-width="2.6"/>
<circle cx="105.50" cy="916.69" r="8.1" fill="#595959"/>
<circle cx="173.05" cy="927.72" r="8.1" fill="#595959"/>
<circle cx="240.60" cy="937.03" r="8.1" fill="#595959"/>
<circle cx="308.15" cy="928.41" r="8.1" fill="#595959"/>
<circle cx="375.70" cy="906.34" r="8.1" fill="#595959"/>
<text transform="translate(115.60,896.50) scale(1.0,1.06)" font-size="15.5" text-anchor="middle" font-weight="normal" fill="#595959" dominant-baseline="central">4.91</text>
<text transform="translate(173.60,894.00) scale(1.0,1.06)" font-size="15.5" text-anchor="middle" font-weight="normal" fill="#595959" dominant-baseline="central">4.59</text>
<text transform="translate(241.60,904.60) scale(1.0,1.06)" font-size="15.5" text-anchor="middle" font-weight="normal" fill="#595959" dominant-baseline="central">4.32</text>
<text transform="translate(305.00,909.10) scale(1.0,1.06)" font-size="15.5" text-anchor="middle" font-weight="normal" fill="#595959" dominant-baseline="central">4.57</text>
<text transform="translate(390.00,886.50) scale(1.0,1.06)" font-size="15.5" text-anchor="middle" font-weight="normal" fill="#595959" dominant-baseline="central">5.21</text>
<text transform="translate(262.95,850.70) scale(1.0,1.05)" font-size="18" text-anchor="middle" font-weight="bold" fill="#404040" dominant-baseline="central">营运资产周转率</text>
<line x1="506.8" y1="883" x2="506.8" y2="1086.1" stroke="#b3b3b3" stroke-width="1.4"/>
<line x1="506.8" y1="1086.1" x2="851.0" y2="1086.1" stroke="#b3b3b3" stroke-width="1.4"/>
<text transform="translate(486.80,1085.00) scale(1.0,1.06)" font-size="15.5" text-anchor="end" font-weight="normal" fill="#595959" dominant-baseline="central">0.00</text>
<text transform="translate(486.80,1044.46) scale(1.0,1.06)" font-size="15.5" text-anchor="end" font-weight="normal" fill="#595959" dominant-baseline="central">0.50</text>
<text transform="translate(486.80,1003.92) scale(1.0,1.06)" font-size="15.5" text-anchor="end" font-weight="normal" fill="#595959" dominant-baseline="central">1.00</text>
<text transform="translate(486.80,963.38) scale(1.0,1.06)" font-size="15.5" text-anchor="end" font-weight="normal" fill="#595959" dominant-baseline="central">1.50</text>
<text transform="translate(486.80,922.84) scale(1.0,1.06)" font-size="15.5" text-anchor="end" font-weight="normal" fill="#595959" dominant-baseline="central">2.00</text>
<text transform="translate(486.80,882.30) scale(1.0,1.06)" font-size="15.5" text-anchor="end" font-weight="normal" fill="#595959" dominant-baseline="central">2.50</text>
<text transform="translate(540.10,1110.00) scale(1.0,1.06)" font-size="15.5" text-anchor="middle" font-weight="normal" fill="#595959" dominant-baseline="central">2015年</text>
<text transform="translate(609.13,1110.00) scale(1.0,1.06)" font-size="15.5" text-anchor="middle" font-weight="normal" fill="#595959" dominant-baseline="central">2016年</text>
<text transform="translate(678.16,1110.00) scale(1.0,1.06)" font-size="15.5" text-anchor="middle" font-weight="normal" fill="#595959" dominant-baseline="central">2017年</text>
<text transform="translate(747.19,1110.00) scale(1.0,1.06)" font-size="15.5" text-anchor="middle" font-weight="normal" fill="#595959" dominant-baseline="central">2018年</text>
<text transform="translate(816.22,1110.00) scale(1.0,1.06)" font-size="15.5" text-anchor="middle" font-weight="normal" fill="#595959" dominant-baseline="central">2019年</text>
<path d="M540.10,1011.11 C551.61,1008.94 586.12,1002.59 609.13,998.13 C632.14,993.67 655.15,991.65 678.16,984.35 C701.17,977.05 724.18,958.40 747.19,954.35 C770.20,950.30 804.72,959.08 816.22,960.03" fill="none" stroke="#6f6f6f" stroke-width="2.8" stroke-dasharray="0.1 5.9" stroke-linecap="round"/>
<path d="M540.10,1024.89 C551.61,1022.86 586.12,1022.86 609.13,1012.73 C632.14,1002.59 655.15,975.70 678.16,964.08 C701.17,952.46 724.18,950.43 747.19,943.00 C770.20,935.57 804.72,923.40 816.22,919.49" fill="none" stroke="#8a8a8a" stroke-width="2.8" stroke-dasharray="10.5 8.5"/>
<circle cx="540.10" cy="1024.89" r="7.6" fill="#646464"/>
<circle cx="609.13" cy="1012.73" r="7.6" fill="#646464"/>
<circle cx="678.16" cy="964.08" r="7.6" fill="#646464"/>
<circle cx="747.19" cy="943.00" r="7.6" fill="#646464"/>
<circle cx="816.22" cy="919.49" r="7.6" fill="#646464"/>
<circle cx="540.10" cy="1011.11" r="6.7" fill="#7c7c7c"/><circle cx="546.50" cy="1013.09" r="1.5" fill="#7c7c7c"/><circle cx="543.23" cy="1017.03" r="1.5" fill="#7c7c7c"/><circle cx="538.12" cy="1017.51" r="1.5" fill="#7c7c7c"/><circle cx="534.17" cy="1014.23" r="1.5" fill="#7c7c7c"/><circle cx="533.70" cy="1009.13" r="1.5" fill="#7c7c7c"/><circle cx="536.97" cy="1005.18" r="1.5" fill="#7c7c7c"/><circle cx="542.08" cy="1004.71" r="1.5" fill="#7c7c7c"/><circle cx="546.03" cy="1007.98" r="1.5" fill="#7c7c7c"/>
<circle cx="609.13" cy="998.13" r="6.7" fill="#7c7c7c"/><circle cx="615.53" cy="1000.11" r="1.5" fill="#7c7c7c"/><circle cx="612.26" cy="1004.06" r="1.5" fill="#7c7c7c"/><circle cx="607.15" cy="1004.53" r="1.5" fill="#7c7c7c"/><circle cx="603.20" cy="1001.26" r="1.5" fill="#7c7c7c"/><circle cx="602.73" cy="996.15" r="1.5" fill="#7c7c7c"/><circle cx="606.00" cy="992.21" r="1.5" fill="#7c7c7c"/><circle cx="611.11" cy="991.73" r="1.5" fill="#7c7c7c"/><circle cx="615.06" cy="995.01" r="1.5" fill="#7c7c7c"/>
<circle cx="678.16" cy="984.35" r="6.7" fill="#7c7c7c"/><circle cx="684.56" cy="986.33" r="1.5" fill="#7c7c7c"/><circle cx="681.29" cy="990.28" r="1.5" fill="#7c7c7c"/><circle cx="676.18" cy="990.75" r="1.5" fill="#7c7c7c"/><circle cx="672.23" cy="987.48" r="1.5" fill="#7c7c7c"/><circle cx="671.76" cy="982.37" r="1.5" fill="#7c7c7c"/><circle cx="675.03" cy="978.42" r="1.5" fill="#7c7c7c"/><circle cx="680.14" cy="977.95" r="1.5" fill="#7c7c7c"/><circle cx="684.09" cy="981.22" r="1.5" fill="#7c7c7c"/>
<circle cx="747.19" cy="954.35" r="6.7" fill="#7c7c7c"/><circle cx="753.59" cy="956.33" r="1.5" fill="#7c7c7c"/><circle cx="750.32" cy="960.28" r="1.5" fill="#7c7c7c"/><circle cx="745.21" cy="960.75" r="1.5" fill="#7c7c7c"/><circle cx="741.26" cy="957.48" r="1.5" fill="#7c7c7c"/><circle cx="740.79" cy="952.37" r="1.5" fill="#7c7c7c"/><circle cx="744.06" cy="948.42" r="1.5" fill="#7c7c7c"/><circle cx="749.17" cy="947.95" r="1.5" fill="#7c7c7c"/><circle cx="753.12" cy="951.22" r="1.5" fill="#7c7c7c"/>
<circle cx="816.22" cy="960.03" r="6.7" fill="#7c7c7c"/><circle cx="822.62" cy="962.01" r="1.5" fill="#7c7c7c"/><circle cx="819.35" cy="965.95" r="1.5" fill="#7c7c7c"/><circle cx="814.24" cy="966.43" r="1.5" fill="#7c7c7c"/><circle cx="810.29" cy="963.15" r="1.5" fill="#7c7c7c"/><circle cx="809.82" cy="958.05" r="1.5" fill="#7c7c7c"/><circle cx="813.09" cy="954.10" r="1.5" fill="#7c7c7c"/><circle cx="818.20" cy="953.63" r="1.5" fill="#7c7c7c"/><circle cx="822.15" cy="956.90" r="1.5" fill="#7c7c7c"/>
<path d="M540.10,1027.32 C551.61,1026.51 586.12,1026.92 609.13,1022.46 C632.14,1018.00 655.15,1014.21 678.16,1000.57 C701.17,986.92 724.18,955.16 747.19,940.57 C770.20,925.97 804.72,917.59 816.22,913.00" fill="none" stroke="#595959" stroke-width="2.6"/>
<circle cx="540.10" cy="1027.32" r="8.1" fill="#595959"/>
<circle cx="609.13" cy="1022.46" r="8.1" fill="#595959"/>
<circle cx="678.16" cy="1000.57" r="8.1" fill="#595959"/>
<circle cx="747.19" cy="940.57" r="8.1" fill="#595959"/>
<circle cx="816.22" cy="913.00" r="8.1" fill="#595959"/>
<text transform="translate(551.50,1007.50) scale(1.0,1.06)" font-size="15.5" text-anchor="middle" font-weight="normal" fill="#595959" dominant-baseline="central">0.72</text>
<text transform="translate(610.10,989.40) scale(1.0,1.06)" font-size="15.5" text-anchor="middle" font-weight="normal" fill="#595959" dominant-baseline="central">0.78</text>
<text transform="translate(678.60,957.80) scale(1.0,1.06)" font-size="15.5" text-anchor="middle" font-weight="normal" fill="#595959" dominant-baseline="central">1.05</text>
<text transform="translate(743.40,921.50) scale(1.0,1.06)" font-size="15.5" text-anchor="middle" font-weight="normal" fill="#595959" dominant-baseline="central">1.79</text>
<text transform="translate(817.30,891.30) scale(1.0,1.06)" font-size="15.5" text-anchor="middle" font-weight="normal" fill="#595959" dominant-baseline="central">2.13</text>
<text transform="translate(691.05,850.90) scale(1.0,1.05)" font-size="18" text-anchor="middle" font-weight="bold" fill="#404040" dominant-baseline="central">长期经营资产周转率</text>
</svg></body></html>
